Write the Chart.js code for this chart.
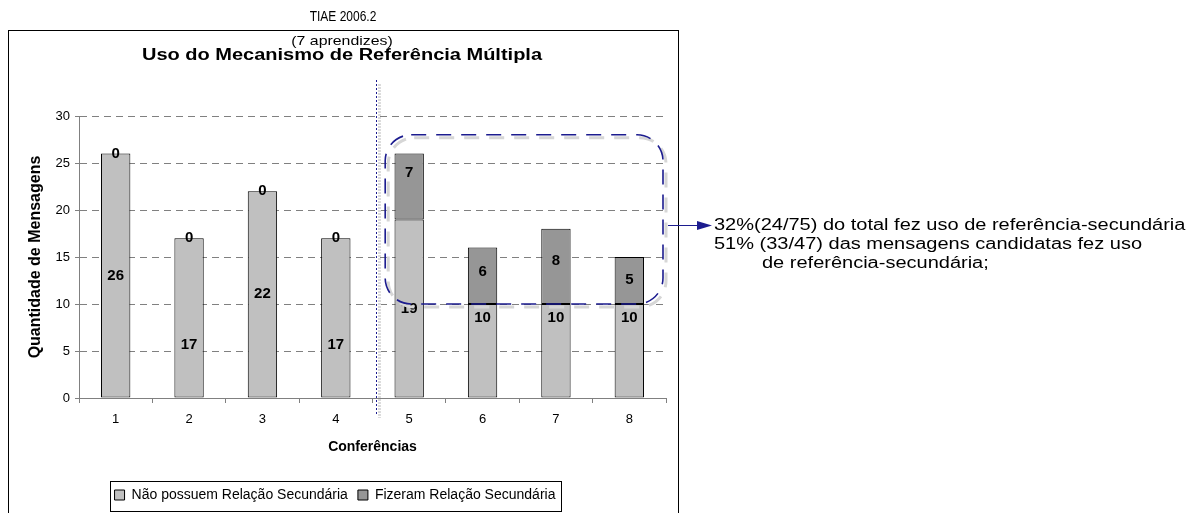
<!DOCTYPE html>
<html>
<head>
<meta charset="utf-8">
<title>Uso do Mecanismo de Referência Múltipla</title>
<script src="https://cdn.jsdelivr.net/npm/chart.js@4/dist/chart.umd.min.js"></script>
<style>
  html, body { margin: 0; padding: 0; background: #ffffff; }
  #wrap { position: relative; width: 1204px; height: 513px; }
</style>
</head>
<body>
<div id="wrap"><canvas id="grafico" width="1204" height="513"></canvas></div>
<script>
// Conferências e quantidade de mensagens por tipo
const conferencias = ['1', '2', '3', '4', '5', '6', '7', '8'];
const naoPossuem = [26, 17, 22, 17, 19, 10, 10, 10];
const fizeram = [0, 0, 0, 0, 7, 6, 8, 5];
const yTicks = [0, 5, 10, 15, 20, 25, 30];

const serieNomes = ['Não possuem Relação Secundária', 'Fizeram Relação Secundária'];
const tituloTopo = 'TIAE 2006.2';
const subtitulo = '(7 aprendizes)';
const titulo = 'Uso do Mecanismo de Referência Múltipla';
const tituloY = 'Quantidade de Mensagens';
const tituloX = 'Conferências';
const notas = [
  '32%(24/75) do total fez uso de referência-secundária',
  '51% (33/47) das mensagens candidatas fez uso',
  'de referência-secundária;'
];

// vertical placement of each value label inside its segment (0 = base, 1 = top)
const posRotuloNao = [0.5, 0.33, 0.5, 0.33, 0.5, 0.85, 0.85, 0.85];
const posRotuloFiz = [0.5, 0.5, 0.5, 0.5, 0.7, 0.57, 0.58, 0.52];

const FONTE = "'Liberation Sans', Arial, Helvetica, sans-serif";
const AZUL = '#1c1c8f';

Chart.defaults.font.family = FONTE;
Chart.defaults.color = '#000000';

// text drawn with a horizontal stretch factor
function textoEsticado(ctx, txt, x, y, k, align) {
  ctx.save();
  ctx.translate(x, y);
  ctx.scale(k, 1);
  ctx.textAlign = align;
  ctx.fillText(txt, 0, 0);
  ctx.restore();
}

// value labels drawn at a fraction of each bar segment
const rotulos = {
  id: 'rotulos',
  afterDatasetsDraw(chart) {
    const ctx = chart.ctx;
    ctx.save();
    ctx.font = 'bold 15px ' + FONTE;
    ctx.fillStyle = '#000';
    ctx.textAlign = 'center';
    ctx.textBaseline = 'middle';
    chart.data.datasets.forEach((ds, di) => {
      const meta = chart.getDatasetMeta(di);
      meta.data.forEach((bar, i) => {
        const y = bar.base + (bar.y - bar.base) * ds.posRotulo[i];
        ctx.fillText(String(ds.data[i]), bar.x, y);
      });
    });
    ctx.restore();
  }
};

// frame, headings, separator, highlight box, arrow and notes
const anotacoes = {
  id: 'anotacoes',
  afterLayout(chart) {
    const lg = chart.legend;
    lg.left -= 9;
    lg.right -= 9;
  },
  afterDraw(chart) {
    const ctx = chart.ctx;
    const xs = chart.scales.x;
    const ys = chart.scales.y;
    ctx.save();

    // outer frame of the chart
    ctx.strokeStyle = '#000';
    ctx.lineWidth = 1;
    ctx.strokeRect(8.5, 30.5, 670, 500);

    // headings
    ctx.fillStyle = '#000';
    ctx.textBaseline = 'alphabetic';
    ctx.font = '15px ' + FONTE;
    textoEsticado(ctx, tituloTopo, 343, 21, 0.8, 'center');
    ctx.font = '13px ' + FONTE;
    textoEsticado(ctx, subtitulo, 342, 45, 1.22, 'center');
    ctx.font = 'bold 16px ' + FONTE;
    textoEsticado(ctx, titulo, 342, 60, 1.25, 'center');

    // legend frame
    const lg = chart.legend;
    const pad = lg.options.labels.padding;
    const inicio = (lg.left + pad + lg.right - lg.lineWidths[0]) / 2;
    const largura = lg.lineWidths[0] - pad;
    ctx.strokeStyle = '#000';
    ctx.lineWidth = 1;
    ctx.strokeRect(Math.round(inicio - 5) + 0.5, Math.round(lg.top + 3) + 0.5,
      Math.round(largura + 10), Math.round(lg.bottom - lg.top - 4));

    // dotted separator between conferences 4 and 5
    const xSep = Math.round((xs.getPixelForValue(3) + xs.getPixelForValue(4)) / 2) + 3.5;
    ctx.lineWidth = 3;
    ctx.strokeStyle = '#dcdcdc';
    ctx.setLineDash([2, 1]);
    ctx.beginPath();
    ctx.moveTo(xSep + 3, 84);
    ctx.lineTo(xSep + 3, 418);
    ctx.stroke();
    ctx.lineWidth = 1;
    ctx.strokeStyle = AZUL;
    ctx.setLineDash([2, 2]);
    ctx.beginPath();
    ctx.moveTo(xSep, 80);
    ctx.lineTo(xSep, 415);
    ctx.stroke();

    // rounded dashed highlight around conferences 5-8
    const bx0 = xs.getPixelForValue(4) - 24;
    const bx1 = xs.right - 3;
    const by0 = ys.getPixelForValue(28);
    const by1 = ys.getPixelForValue(10);
    const raio = 26;
    ctx.setLineDash([15, 10]);
    ctx.lineWidth = 3;
    ctx.strokeStyle = '#d6d6d6';
    ctx.beginPath();
    ctx.roundRect(bx0 + 3, by0 + 3, bx1 - bx0, by1 - by0, raio);
    ctx.stroke();
    ctx.lineWidth = 1.6;
    ctx.strokeStyle = AZUL;
    ctx.beginPath();
    ctx.roundRect(bx0, by0, bx1 - bx0, by1 - by0, raio);
    ctx.stroke();
    ctx.setLineDash([]);

    // arrow pointing to the notes
    const ya = Math.round((by0 + by1) / 2) + 6.5;
    const xa0 = bx1 + 5;
    const xa1 = bx1 + 49;
    ctx.strokeStyle = AZUL;
    ctx.fillStyle = AZUL;
    ctx.lineWidth = 1.2;
    ctx.beginPath();
    ctx.moveTo(xa0, ya);
    ctx.lineTo(xa1 - 10, ya);
    ctx.stroke();
    ctx.beginPath();
    ctx.moveTo(xa1, ya);
    ctx.lineTo(xa1 - 15, ya - 4.5);
    ctx.lineTo(xa1 - 15, ya + 4.5);
    ctx.closePath();
    ctx.fill();

    // notes
    ctx.fillStyle = '#000';
    ctx.font = '16px ' + FONTE;
    ctx.textBaseline = 'middle';
    textoEsticado(ctx, notas[0], xa1 + 2, ya, 1.25, 'left');
    textoEsticado(ctx, notas[1], xa1 + 2, ya + 19, 1.25, 'left');
    textoEsticado(ctx, notas[2], xa1 + 50, ya + 38, 1.25, 'left');

    ctx.restore();
  }
};

new Chart(document.getElementById('grafico'), {
  type: 'bar',
  data: {
    labels: conferencias,
    datasets: [
      {
        label: serieNomes[0],
        data: naoPossuem,
        posRotulo: posRotuloNao,
        backgroundColor: '#c0c0c0',
        borderColor: '#000000',
        borderWidth: 1,
        borderSkipped: false,
        barPercentage: 0.4,
        categoryPercentage: 1.0
      },
      {
        label: serieNomes[1],
        data: fizeram,
        posRotulo: posRotuloFiz,
        backgroundColor: '#969696',
        borderColor: '#000000',
        borderWidth: 1,
        borderSkipped: false,
        barPercentage: 0.4,
        categoryPercentage: 1.0
      }
    ]
  },
  options: {
    responsive: false,
    animation: false,
    devicePixelRatio: 1,
    layout: { padding: { left: 22, right: 538, top: 116, bottom: 1 } },
    plugins: {
      legend: {
        position: 'bottom',
        labels: {
          boxWidth: 10,
          boxHeight: 10,
          padding: 10,
          font: { size: 14 },
          color: '#000'
        }
      },
      title: { display: false },
      tooltip: { enabled: false }
    },
    scales: {
      x: {
        stacked: true,
        offset: true,
        grid: {
          offset: true,
          drawOnChartArea: false,
          drawTicks: true,
          tickLength: 5,
          color: '#808080'
        },
        border: { color: '#808080', width: 1 },
        ticks: { font: { size: 13 }, padding: 9, color: '#000' },
        title: {
          display: true,
          text: tituloX,
          font: { size: 14, weight: 'bold' },
          padding: { top: 4, bottom: 22 }
        },
        afterFit(scale) { scale.height = 80; }
      },
      y: {
        stacked: true,
        min: 0,
        max: 30,
        afterBuildTicks(scale) { scale.ticks = yTicks.map(v => ({ value: v })); },
        ticks: { font: { size: 13 }, padding: 5, color: '#000' },
        grid: {
          color: '#808080',
          lineWidth: 1,
          tickLength: 4,
          tickColor: '#808080',
          tickBorderDash: []
        },
        border: { color: '#808080', width: 1, dash: [7, 5] },
        title: {
          display: true,
          text: tituloY,
          font: { size: 16, weight: 'bold' },
          padding: { top: 4, bottom: 4 }
        },
        afterFit(scale) { scale.width = 57; }
      }
    }
  },
  plugins: [rotulos, anotacoes]
});
</script>
</body>
</html>
